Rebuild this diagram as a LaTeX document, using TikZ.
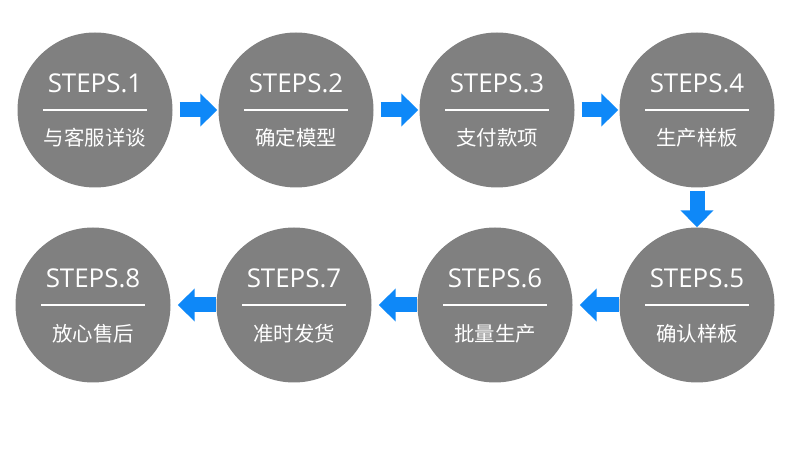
\documentclass[tikz,border=0pt]{standalone}
\usepackage{fontspec}
\setmainfont{Open Sans}
\newfontfamily\cjk{Noto Sans CJK SC}
\usetikzlibrary{arrows.meta}
\definecolor{stepgray}{RGB}{128,128,128}
\definecolor{stepblue}{RGB}{14,136,248}
\tikzset{
  stepcircle/.style={circle,fill=stepgray,draw=none,minimum size=155bp,inner sep=0pt},
  steptitle/.style={text=white,font=\fontsize{26}{30}\selectfont,inner sep=0pt},
  steptext/.style={text=white,font=\cjk\fontsize{20.5}{24}\selectfont,inner sep=0pt},
  stepline/.style={white,line width=2bp},
  steparrow/.style={stepblue,line width=15bp,-{Triangle[length=17bp,width=32bp]}},
}
\begin{document}
\begin{tikzpicture}[line join=bevel,]
\fill [white] (0bp,0bp) rectangle (790bp,450bp);
\useasboundingbox (0bp,0bp) rectangle (790bp,450bp);
%%
\node (step_1) at (95bp,340bp) [stepcircle] {};
  \node (step_2) at (296bp,340bp) [stepcircle] {};
  \node (step_3) at (497bp,340bp) [stepcircle] {};
  \node (step_4) at (697bp,340bp) [stepcircle] {};
  \node (step_5) at (697bp,145bp) [stepcircle] {};
  \node (step_6) at (495bp,145bp) [stepcircle] {};
  \node (step_7) at (294bp,145bp) [stepcircle] {};
  \node (step_8) at (93bp,145bp) [stepcircle] {};
%
\node (title_1) at ([yshift=27bp]step_1.center) [steptitle] {STEPS.1};
  \node (title_2) at ([yshift=27bp]step_2.center) [steptitle] {STEPS.2};
  \node (title_3) at ([yshift=27bp]step_3.center) [steptitle] {STEPS.3};
  \node (title_4) at ([yshift=27bp]step_4.center) [steptitle] {STEPS.4};
  \node (title_5) at ([yshift=27bp]step_5.center) [steptitle] {STEPS.5};
  \node (title_6) at ([yshift=27bp]step_6.center) [steptitle] {STEPS.6};
  \node (title_7) at ([yshift=27bp]step_7.center) [steptitle] {STEPS.7};
  \node (title_8) at ([yshift=27bp]step_8.center) [steptitle] {STEPS.8};
%
\node (text_1) at ([yshift=-28bp]step_1.center) [steptext] {与客服详谈};
  \node (text_2) at ([yshift=-28bp]step_2.center) [steptext] {确定模型};
  \node (text_3) at ([yshift=-28bp]step_3.center) [steptext] {支付款项};
  \node (text_4) at ([yshift=-28bp]step_4.center) [steptext] {生产样板};
  \node (text_5) at ([yshift=-29bp]step_5.center) [steptext] {确认样板};
  \node (text_6) at ([yshift=-29bp]step_6.center) [steptext] {批量生产};
  \node (text_7) at ([yshift=-29bp]step_7.center) [steptext] {准时发货};
  \node (text_8) at ([yshift=-29bp]step_8.center) [steptext] {放心售后};
%
\draw [stepline] ([xshift=-52bp]step_1.center) -- ([xshift=52bp]step_1.center);
  \draw [stepline] ([xshift=-52bp]step_2.center) -- ([xshift=52bp]step_2.center);
  \draw [stepline] ([xshift=-52bp]step_3.center) -- ([xshift=52bp]step_3.center);
  \draw [stepline] ([xshift=-52bp]step_4.center) -- ([xshift=52bp]step_4.center);
  \draw [stepline] ([xshift=-52bp]step_5.center) -- ([xshift=52bp]step_5.center);
  \draw [stepline] ([xshift=-52bp]step_6.center) -- ([xshift=52bp]step_6.center);
  \draw [stepline] ([xshift=-52bp]step_7.center) -- ([xshift=52bp]step_7.center);
  \draw [stepline] ([xshift=-52bp]step_8.center) -- ([xshift=52bp]step_8.center);
%
\draw [steparrow,shorten <=7bp,shorten >=1bp] (step_1.east) -- (step_2.west);
  \draw [steparrow,shorten <=7bp,shorten >=1bp] (step_2.east) -- (step_3.west);
  \draw [steparrow,shorten <=7bp,shorten >=1bp] (step_3.east) -- (step_4.west);
  \draw [steparrow,shorten <=3bp,shorten >=0bp] (step_4.south) -- (step_5.north);
  \draw [steparrow,shorten <=0bp,shorten >=7bp] (step_5.west) -- (step_6.east);
  \draw [steparrow,shorten <=0bp,shorten >=7bp] (step_6.west) -- (step_7.east);
  \draw [steparrow,shorten <=0bp,shorten >=7bp] (step_7.west) -- (step_8.east);
%
\end{tikzpicture}
\end{document}
